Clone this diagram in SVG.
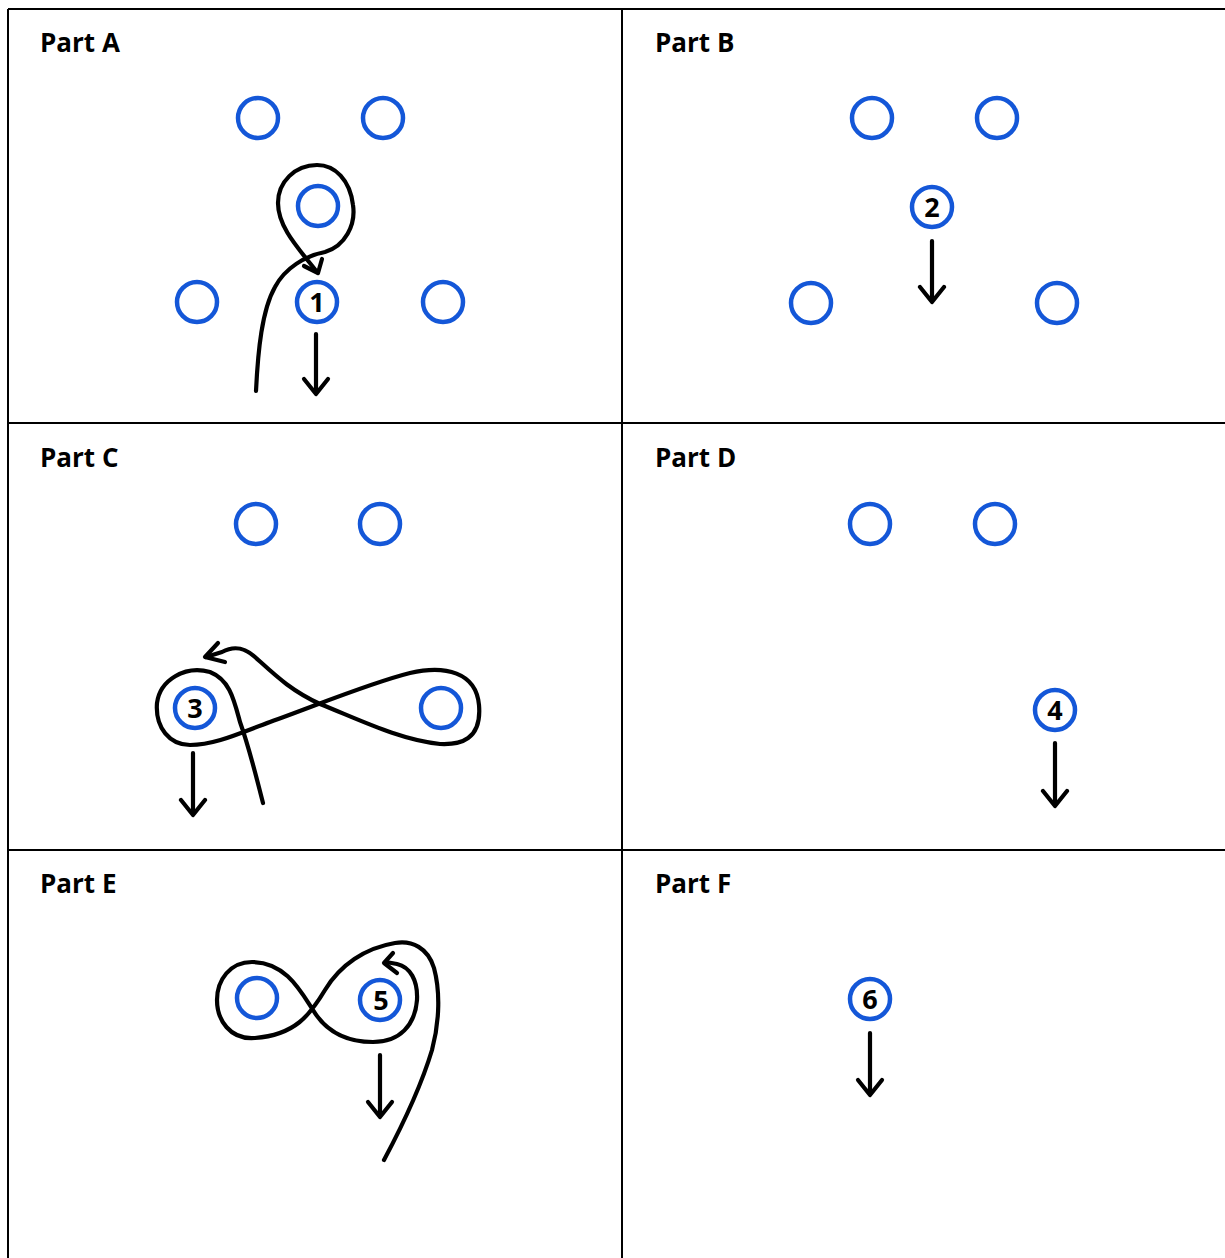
<svg xmlns="http://www.w3.org/2000/svg" width="1225" height="1258" viewBox="0 0 1225 1258">
<style>
.grid{stroke:#000;stroke-width:2;fill:none}
.lbl{font-family:"Open Sans","Liberation Sans",sans-serif;font-weight:700;font-size:26px;fill:#000}
.c{fill:none;stroke:#1457d8;stroke-width:4.5}
.num{font-family:"Open Sans","Liberation Sans",sans-serif;font-weight:700;font-size:27px;fill:#000;text-anchor:middle}
.p{fill:none;stroke:#000;stroke-width:4.2;stroke-linecap:round;stroke-linejoin:round}
</style>
<rect width="1225" height="1258" fill="#fff"/>
<g id="grid">
<line class="grid" x1="8" y1="9" x2="1225" y2="9"/>
<line class="grid" x1="8" y1="423" x2="1225" y2="423"/>
<line class="grid" x1="8" y1="850" x2="1225" y2="850"/>
<line class="grid" x1="8" y1="9" x2="8" y2="1258"/>
<line class="grid" x1="622" y1="9" x2="622" y2="1258"/>
</g>
<g id="labels">
<text class="lbl" x="40" y="52">Part A</text>
<text class="lbl" x="655" y="52">Part B</text>
<text class="lbl" x="40" y="467">Part C</text>
<text class="lbl" x="655" y="467">Part D</text>
<text class="lbl" x="40" y="893">Part E</text>
<text class="lbl" x="655" y="893">Part F</text>
</g>
<g id="partA">
<circle class="c" cx="258" cy="118" r="20"/>
<circle class="c" cx="383" cy="118" r="20"/>
<circle class="c" cx="318" cy="206" r="20"/>
<circle class="c" cx="197" cy="302" r="20"/>
<circle class="c" cx="317" cy="302" r="20"/>
<text class="num" x="317" y="312">1</text>
<circle class="c" cx="443" cy="302" r="20"/>
</g>
<g id="partB">
<circle class="c" cx="872" cy="118" r="20"/>
<circle class="c" cx="997" cy="118" r="20"/>
<circle class="c" cx="932" cy="207" r="20"/>
<text class="num" x="932" y="217">2</text>
<circle class="c" cx="811" cy="303" r="20"/>
<circle class="c" cx="1057" cy="303" r="20"/>
</g>
<g id="partC">
<circle class="c" cx="256" cy="524" r="20"/>
<circle class="c" cx="380" cy="524" r="20"/>
<circle class="c" cx="195" cy="708" r="20"/>
<text class="num" x="195" y="718">3</text>
<circle class="c" cx="441" cy="708" r="20"/>
</g>
<g id="partD">
<circle class="c" cx="870" cy="524" r="20"/>
<circle class="c" cx="995" cy="524" r="20"/>
<circle class="c" cx="1055" cy="710" r="20"/>
<text class="num" x="1055" y="720">4</text>
</g>
<g id="partE">
<circle class="c" cx="257" cy="998" r="20"/>
<circle class="c" cx="380" cy="1000" r="20"/>
<text class="num" x="381" y="1010">5</text>
</g>
<g id="partF">
<circle class="c" cx="870" cy="999" r="20"/>
<text class="num" x="870" y="1009">6</text>
</g>
<g id="connectors">
<path class="p" d="M256,391 C258,350 262,310 275,287 C285,268 305,256 325,252 C345,246 356,225 353,205 C350,180 335,165 317,165 C295,165 278,182 278,203 C278,228 300,250 317,272"/>
<path class="p" d="M304,266 L318,273 L322,259"/>
<path class="p" d="M316,334 L316,394 M304,379 L316,394 L328,379"/>
<path class="p" d="M932,241 L932,302 M920,287 L932,302 L944,287"/>
<path class="p" d="M263,803 C257,780 250,750 240,722 C234,700 230,680 210,672 C185,665 160,680 157,703 C155,728 170,745 190,745 C215,745 240,733 270,722 C320,704 370,683 410,673 C445,665 476,672 479,705 C482,740 460,745 440,744 C400,740 360,720 320,704 C290,690 275,675 255,657 C245,648 235,645 222,652 L206,657"/>
<path class="p" d="M218,643 L205,657 L225,662"/>
<path class="p" d="M193,753 L193,815 M181,800 L193,815 L205,800"/>
<path class="p" d="M1055,743 L1055,806 M1043,791 L1055,806 L1067,791"/>
<path class="p" d="M384,1160 C400,1130 420,1090 432,1050 C440,1020 440,990 434,968 C428,948 412,940 395,943 C365,948 340,965 325,990 C310,1015 295,1035 255,1038 C230,1040 217,1020 217,1000 C217,980 230,962 252,962 C285,962 300,990 313,1010 C325,1030 345,1042 373,1042 C400,1042 415,1025 417,1000 C418,980 410,967 397,964 L386,962"/>
<path class="p" d="M393,953 L384,963 L397,973"/>
<path class="p" d="M380,1055 L380,1117 M368,1102 L380,1117 L392,1102"/>
<path class="p" d="M870,1033 L870,1095 M858,1080 L870,1095 L882,1080"/>
</g>
</svg>
